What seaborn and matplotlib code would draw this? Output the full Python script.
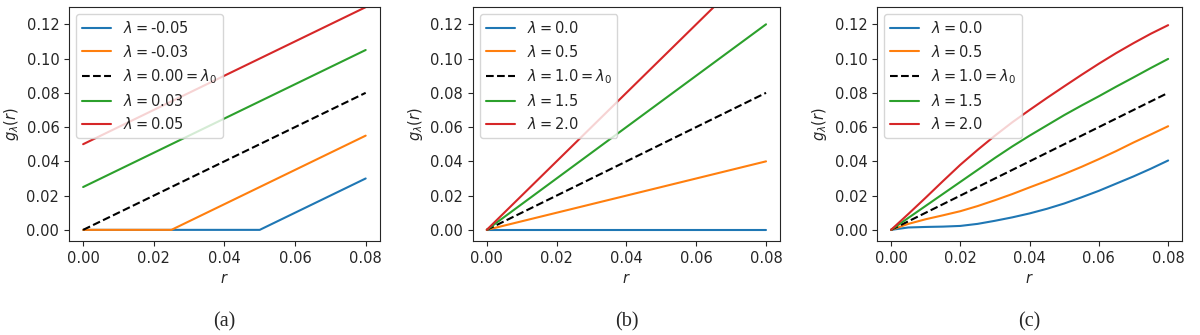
import numpy as np
import pandas as pd
import matplotlib
matplotlib.use("Agg")
import matplotlib.pyplot as plt
import seaborn as sns

# values
# panel (a): shifted ramps
a_labels = [r'$\lambda=$-0.05', r'$\lambda=$-0.03', r'$\lambda=0.00=\lambda_0$',
            r'$\lambda=0.03$', r'$\lambda=0.05$']
a_r = [[0.0, 0.05, 0.08], [0.0, 0.025, 0.08], [0.0, 0.08], [0.0, 0.08], [0.0, 0.08]]
a_g = [[0.0, 0.0, 0.03], [0.0, 0.0, 0.055], [0.0, 0.08], [0.025, 0.105], [0.05, 0.13]]

# panel (b): straight lines through the origin
b_labels = [r'$\lambda=0.0$', r'$\lambda=0.5$', r'$\lambda=1.0=\lambda_0$',
            r'$\lambda=1.5$', r'$\lambda=2.0$']
b_r = [[0.0, 0.08]] * 5
b_g = [[0.0, 0.0], [0.0, 0.04], [0.0, 0.08], [0.0, 0.12], [0.0, 0.16]]

# panel (c): curved, read every 0.005
c_labels = b_labels
c_x = [0.0, 0.005, 0.01, 0.015, 0.02, 0.025, 0.03, 0.035, 0.04,
       0.045, 0.05, 0.055, 0.06, 0.065, 0.07, 0.075, 0.08]
c_blue = [0.0, 0.0014, 0.0017, 0.0019, 0.0023, 0.0035, 0.0053, 0.0073, 0.0096,
          0.0123, 0.0154, 0.0190, 0.0228, 0.0270, 0.0312, 0.0357, 0.0405]
c_orange = [0.0, 0.0035, 0.0062, 0.0085, 0.0109, 0.0139, 0.0173, 0.0209, 0.0248,
            0.0286, 0.0326, 0.0368, 0.0413, 0.0460, 0.0510, 0.0557, 0.0605]
c_green = [0.0, 0.0070, 0.0140, 0.0210, 0.0280, 0.0350, 0.0420, 0.0487, 0.0550,
           0.0610, 0.0670, 0.0726, 0.0780, 0.0836, 0.0890, 0.0945, 0.0998]
c_red = [0.0, 0.0093, 0.0188, 0.0285, 0.0380, 0.0467, 0.0550, 0.0628, 0.0700,
         0.0770, 0.0838, 0.0905, 0.0970, 0.1032, 0.1090, 0.1145, 0.1195]
c_r = [c_x, c_x, [0.0, 0.08], c_x, c_x]
c_g = [c_blue, c_orange, [0.0, 0.08], c_green, c_red]

captions = ['(a)', '(b)', '(c)']
colors = ['#1f77b4', '#ff7f0e', 'black', '#2ca02c', '#d62728']
styles = ['-', '-', '--', '-', '-']

sns.set_style('ticks')
plt.rcParams['font.family'] = ['DejaVu Sans']
plt.rcParams['font.size'] = 10.5

fig = plt.figure(figsize=(12, 3.35), dpi=100)
positions = [[0.0575, 0.2806, 0.259, 0.698],
             [0.394, 0.2806, 0.256, 0.698],
             [0.731, 0.2806, 0.254, 0.698]]

panels = [(a_labels, a_r, a_g), (b_labels, b_r, b_g), (c_labels, c_r, c_g)]

for k, (labels, rs, gs) in enumerate(panels):
    ax = fig.add_axes(positions[k])
    for i in range(5):
        df = pd.DataFrame({'r': rs[i], 'g': gs[i]})
        sns.lineplot(data=df, x='r', y='g', ax=ax, color=colors[i],
                     linestyle=styles[i], linewidth=1.5, label=labels[i])
    ax.set_xlim(-0.004, 0.084)
    ax.set_ylim(-0.0065, 0.13)
    ax.set_xticks([0.0, 0.02, 0.04, 0.06, 0.08])
    ax.set_yticks([0.0, 0.02, 0.04, 0.06, 0.08, 0.10, 0.12])
    ax.xaxis.set_major_formatter(matplotlib.ticker.FormatStrFormatter('%.2f'))
    ax.yaxis.set_major_formatter(matplotlib.ticker.FormatStrFormatter('%.2f'))
    ax.tick_params(labelsize=10.5)
    ax.set_xlabel(r'$r$', fontsize=10.5)
    ax.set_ylabel(r'$g_\lambda(r)$', fontsize=10.5)
    for s in ax.spines.values():
        s.set_visible(True)
    ax.legend(loc='upper left', fontsize=10.5, handlelength=2.0)
    fig.text(positions[k][0] + positions[k][2] / 2, 0.04, captions[k],
             ha='center', va='center', fontsize=14.5, family='Liberation Serif')

fig.savefig('out.png', dpi=100)
